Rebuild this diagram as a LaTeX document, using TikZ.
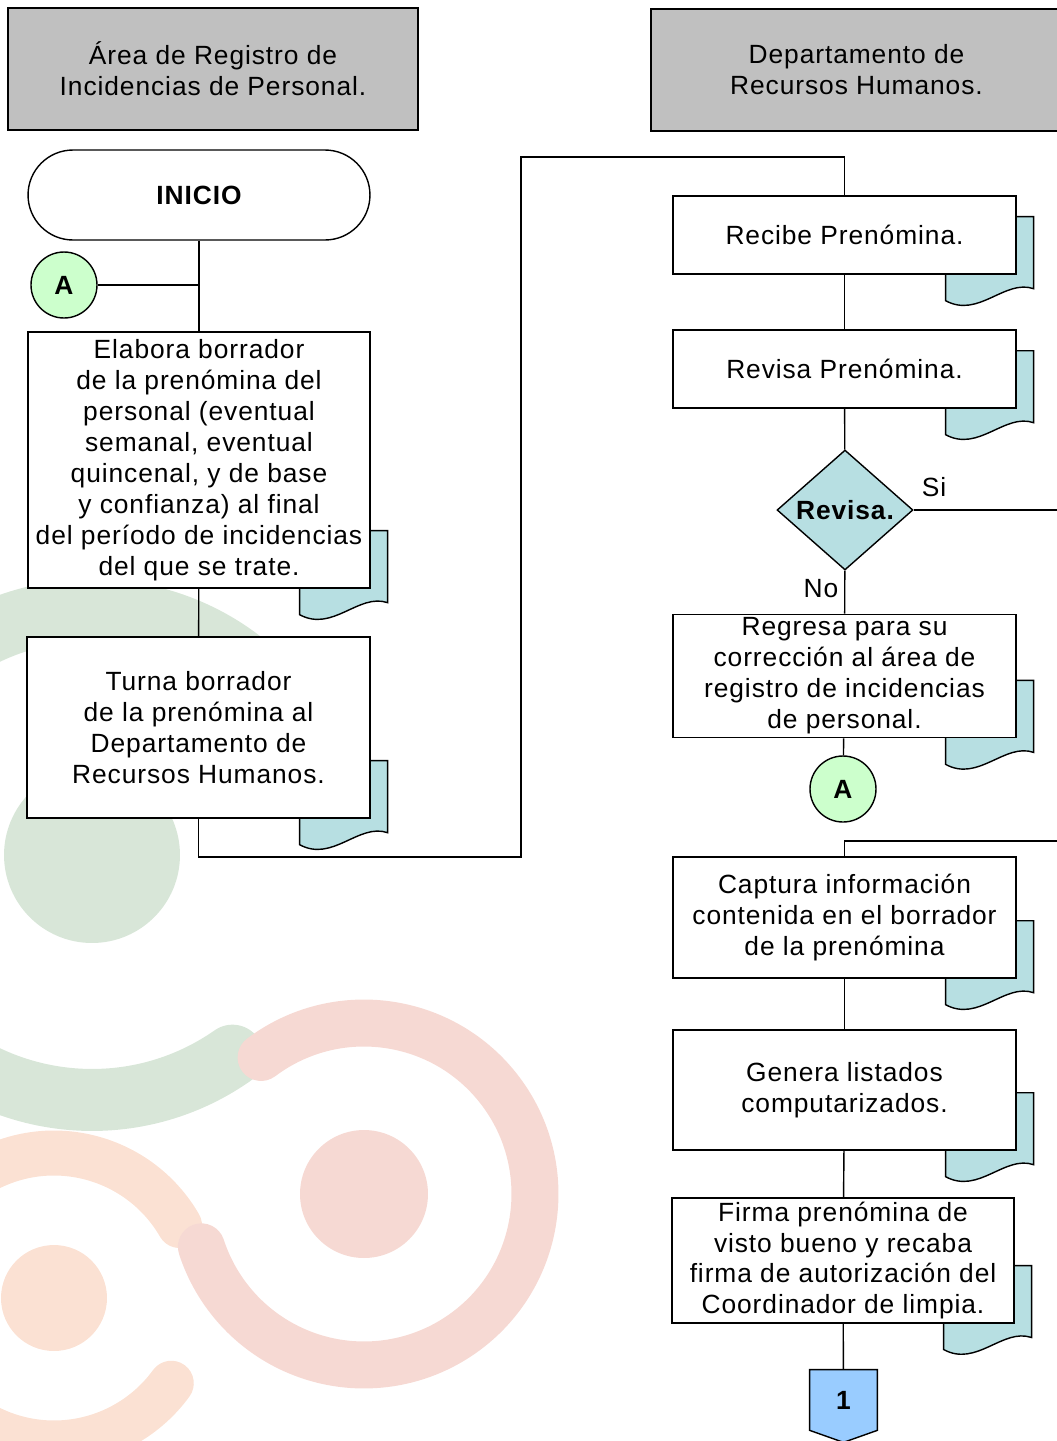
\documentclass[tikz,border=0pt]{standalone}
\usepackage{fontspec}
\setmainfont{Liberation Sans}[LetterSpace=3.5]
\usepackage{xcolor}
\usepackage{tikz}
\usetikzlibrary{positioning, shapes.geometric}

\pgfdeclarelayer{fondo}
\pgfdeclarelayer{background}
\pgfsetlayers{fondo,background,main}

\definecolor{grisenc}{RGB}{192,192,192}
\definecolor{tealdoc}{RGB}{183,223,226}
\definecolor{verdeA}{RGB}{204,255,204}
\definecolor{azulcon}{RGB}{153,204,255}
\definecolor{marcaverde}{RGB}{216,230,216}
\definecolor{marcarosa}{RGB}{246,217,211}
\definecolor{marcadurazno}{RGB}{251,225,211}

\begin{document}
\begin{tikzpicture}[
    x=0.02cm, y=-0.02cm,
    font=\fontsize{15}{17.6}\selectfont,
    encabezado/.style={
        draw,
        fill=grisenc,
        minimum width=8.2cm,
        minimum height=2.44cm,
        align=center,
        line width=0.8pt
    },
    proceso/.style={
        draw,
        fill=white,
        minimum width=6.86cm,
        align=center,
        inner sep=2pt,
        line width=0.8pt
    },
    terminal/.style={
        draw,
        fill=white,
        rounded corners=0.9cm,
        minimum width=6.84cm,
        minimum height=1.8cm,
        font=\fontsize{15}{17.6}\selectfont\bfseries,
        line width=0.8pt
    },
    enlace/.style={
        draw,
        circle,
        fill=verdeA,
        minimum size=1.32cm,
        inner sep=0pt,
        font=\fontsize{15}{17.6}\selectfont\bfseries,
        line width=0.8pt
    },
    decision/.style={
        draw,
        diamond,
        fill=tealdoc,
        minimum width=2.72cm,
        minimum height=2.4cm,
        inner sep=0pt,
        font=\fontsize{15}{17.6}\selectfont\bfseries,
        line width=0.8pt
    },
    hoja/.style={
        draw,
        fill=tealdoc,
        line width=0.8pt
    },
    marca/.style={
        line cap=round,
        line width=#1
    },
    linea/.style={
        line width=0.8pt
    }
]

\useasboundingbox (0,0) rectangle (1057,1441);

% marca de agua del fondo
\begin{pgfonlayer}{fondo}
\draw[marca=1.24cm, marcaverde] ([shift={(40:4.9cm)}]92,855) arc[start angle=40, end angle=305, radius=4.9cm];
\fill[marcaverde] (92,855) circle[radius=1.76cm];
\draw[marca=0.9cm, marcadurazno] ([shift={(30:2.9cm)}]54,1298) arc[start angle=30, end angle=324, radius=2.9cm];
\fill[marcadurazno] (54,1298) circle[radius=1.06cm];
\draw[marca=0.94cm, marcarosa] ([shift={(127:3.42cm)}]364,1194) arc[start angle=127, end angle=-162, radius=3.42cm];
\fill[marcarosa] (364,1194) circle[radius=1.28cm];
\end{pgfonlayer}

% encabezados
\node[encabezado] (area) at (213,69) {Área de Registro de\\Incidencias de Personal.};
\node[encabezado, minimum width=8.22cm] (depto) at (856.5,70) {Departamento de\\Recursos Humanos.};

% columna izquierda
\node[terminal] (inicio) at (199,195) {INICIO};
\node[enlace] (a1) at (64,285) {A};
\node[proceso, minimum width=6.84cm, minimum height=5.12cm] (elabora) at (199,460)
    {Elabora borrador\\de la prenómina del\\personal (eventual\\semanal, eventual\\quincenal, y de base\\y confianza) al final\\del período de incidencias\\del que se trate.};
\node[proceso, minimum height=3.62cm] (turna) at (198.5,727.5)
    {Turna borrador\\de la prenómina al\\Departamento de\\Recursos Humanos.};

% columna derecha
\node[proceso, minimum height=1.56cm] (recibe) at (844.5,235) {Recibe Prenómina.};
\node[proceso, minimum height=1.56cm] (revisa) at (844.5,369) {Revisa Prenómina.};
\node[decision] (revision) at (845,510) {Revisa.};
\node[proceso, minimum height=2.44cm] (regresa) at (844.5,676)
    {Regresa para su\\corrección al área de\\registro de incidencias\\de personal.};
\node[enlace] (a2) at (843,789) {A};
\node[proceso, minimum height=2.42cm] (captura) at (844.5,917.5)
    {Captura información\\contenida en el borrador\\de la prenómina};
\node[proceso, minimum height=2.4cm] (genera) at (844.5,1090)
    {Genera listados\\computarizados.};
\node[proceso, minimum width=6.84cm, minimum height=2.42cm] (firma) at (843,1260.5)
    {Firma prenómina de\\visto bueno y recaba\\firma de autorización del\\Coordinador de limpia.};
\node[minimum width=1.34cm, minimum height=1.2cm, inner sep=0pt,
      font=\fontsize{15}{17.6}\selectfont\bfseries] (uno) at (843.5,1400) {1};

\coordinate (codo1) at (521,857);
\coordinate (codo2) at (521,157);
\coordinate (salidasi) at (1070,510);
\coordinate (entrada) at (1070,841);

% hojas de documento y conector de pagina
\begin{pgfonlayer}{background}
\foreach \n in {elabora,turna,recibe,revisa,regresa,captura,genera,firma}{
    \begin{scope}[shift={(\n.south east)}]
    \draw[hoja] (-71,-58) -- (17,-58) -- (17,14)
        .. controls (-12,4) and (-38,44) .. (-71,26) -- cycle;
    \end{scope}
}
\draw[hoja, fill=azulcon] (uno.north west) -- (uno.north east) -- (uno.south east)
    -- ([yshift=-0.24cm]uno.south) -- (uno.south west) -- cycle;
\end{pgfonlayer}

\draw[linea] (inicio) -- (elabora);
\draw[linea] (a1) -- (a1 -| elabora);
\draw[linea] (elabora) -- (turna);
\draw[linea] (turna.south) |- (codo1) -- (codo2) -| (recibe.north);
\draw[linea] (recibe) -- (revisa);
\draw[linea] (revisa) -- (revision);
\draw[linea] (revision.east) -- node[pos=0.13, above=4pt] {Si} (salidasi);
\draw[linea] (revision) -- node[pos=0.42, left] {No} (regresa);
\draw[linea] (regresa) -- (a2);
\draw[linea] (entrada) -| (captura.north);
\draw[linea] (captura) -- (genera);
\draw[linea] (genera) -- (firma);
\draw[linea] (firma) -- (uno);

\end{tikzpicture}
\end{document}
